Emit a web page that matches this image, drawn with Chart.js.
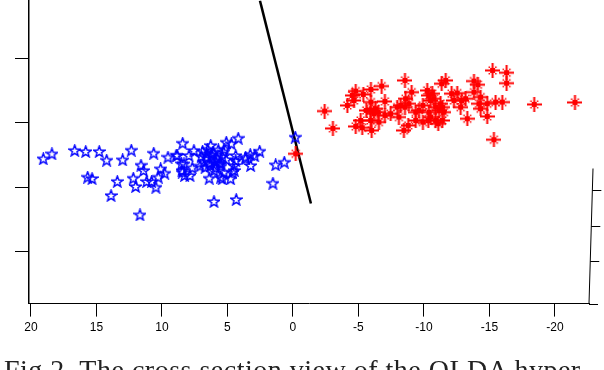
<!DOCTYPE html>
<html>
<head>
<meta charset="utf-8">
<script src="https://cdn.jsdelivr.net/npm/chart.js@4.4.0/dist/chart.umd.min.js"></script>
<style>
    html, body { margin: 0; padding: 0; background: #fff; overflow: hidden; }
    #wrap { position: relative; width: 604px; height: 370px; overflow: hidden; }
    #caption {
        position: absolute; left: 4px; top: 354px; white-space: nowrap;
        font-family: "Liberation Serif", serif; font-size: 28px; color: #222;
        letter-spacing: 0.5px; line-height: 32px;
    }
</style>
</head>
<body>
<div id="wrap">
    <canvas id="olda" width="604" height="370"></canvas>
    <div id="caption">Fig 2. The cross section view of the OLDA hyper</div>
</div>
<script>
// class 1 (blue stars)
const blueX = [19.06, 18.40, 16.66, 15.82, 14.79, 14.22, 13.00, 12.34, 10.63, 9.54, 8.91, 8.42,
    15.67, 15.34, 13.41, 13.89, 12.19, 12.01, 11.60, 11.40, 11.17, 10.79, 10.46, 10.28, 10.10, 9.79,
    11.68, 8.50, 8.47, 8.27, 7.86, 7.69, 6.39, 6.03, 4.33, 5.40, 4.76, 5.09, 4.71, 4.18, 4.48,
    3.61, 3.26, 2.92, 3.23, 2.54, 1.32, 0.66, 1.53, -0.18,
    7.56, 7.94, 8.83, 6.28, 4.37, 4.37, 3.61, 8.32, 8.45, 5.52, 6.03, 5.27, 4.63, 5.52, 4.50,
    6.9, 6.5, 6.1, 5.7, 5.3, 7.0, 6.6, 6.2, 5.8, 5.4, 5.1, 6.8, 6.4, 6.0, 5.6, 7.1, 6.7, 6.3, 5.9,
    5.5, 6.2, 5.9, 6.6, 5.2];
const blueY = [14.42, 15.19, 15.71, 15.55, 15.55, 14.20, 14.26, 15.75, 15.29, 14.67, 14.98, 16.84,
    11.56, 11.35, 10.89, 8.71, 11.40, 10.11, 13.42, 12.60, 10.89, 10.89, 10.00, 11.56, 12.86, 12.18,
    5.71, 13.64, 12.60, 11.82, 11.82, 13.02, 11.40, 7.78, 8.09, 11.31, 11.31, 17.00, 16.75, 17.62, 12.60,
    14.42, 15.09, 14.88, 13.37, 15.60, 13.48, 13.89, 10.62, 17.78,
    15.71, 14.93, 14.93, 16.49, 14.93, 14.15, 14.67, 13.64, 12.33, 11.56, 12.60, 12.33, 12.33, 13.64, 13.37,
    15.6, 15.9, 15.4, 15.8, 15.5, 14.8, 14.6, 14.9, 14.5, 14.8, 14.3, 13.9, 13.7, 14.1, 13.8, 13.3, 13.1, 13.4, 13.0,
    13.3, 15.1, 14.0, 15.2, 15.9];

// class 2 (red asterisks)
const redX = [-2.42, -3.05, -4.15, -4.53, -4.79, -4.66, -5.37, -5.95, -6.77, -7.02, -5.95, -5.93, -5.60,
    -6.31, -6.51, -6.18, -5.17, -4.79, -5.29, -6.01, -5.93, -6.56, -7.02, -7.46, -8.09, -7.96, -8.22,
    -8.55, -8.85, -8.60, -8.55, -9.06, -8.47, -8.80, -9.37, -9.92, -9.37, -9.62, -9.92, -10.25, -10.38,
    -10.63, -10.76, -10.51, -10.38, -10.51, -10.33, -10.89, -11.09, -10.89, -11.15, -11.40, -11.53, -11.27,
    -11.40, -11.35, -11.66, -12.11, -12.54, -12.29, -12.88, -13.18, -12.80, -13.31, -13.82, -14.12, -13.82,
    -14.33, -14.20, -14.33, -14.83, -14.83, -15.47, -15.98, -15.24, -16.31, -16.31, -15.34, -18.42, -21.53,
    -0.21];
const redY = [21.82, 19.13, 22.71, 24.26, 24.93, 23.48, 24.42, 25.19, 25.71, 23.33, 23.22, 21.93, 21.93,
    22.19, 21.66, 21.42, 20.37, 19.44, 19.24, 18.82, 20.37, 20.11, 21.15, 21.42, 20.89, 22.44, 22.71,
    22.44, 22.97, 23.75, 26.59, 24.77, 18.82, 19.60, 20.37, 20.11, 21.66, 21.93, 22.71, 25.04, 24.26,
    24.53, 23.75, 23.48, 21.66, 20.89, 20.37, 20.37, 19.86, 22.44, 21.93, 22.44, 21.66, 22.97,
    20.37, 26.08, 26.59, 24.53, 24.62, 23.48, 23.48, 23.75, 22.44, 20.64, 26.49, 25.92, 24.77,
    24.00, 22.97, 22.19, 22.97, 21.00, 23.22, 23.22, 28.15, 27.79, 26.17, 17.37, 22.86, 23.17,
    15.19];

// OLDA hyperplane cross section
const planeX = [2.52, -1.37];
const planeY = [39.0, 7.47];

const xTicks = [20, 15, 10, 5, 0, -5, -10, -15, -20];
const yTicks = [0, 10, 20, 30];
const rightAxisTicks = [9.5, 4.0, -1.5, -8.1];

const toPoints = (xs, ys) => xs.map((x, i) => ({x: x, y: ys[i]}));

// marker images, drawn once
const makeStar = () => {
    const c = document.createElement('canvas');
    c.width = 13; c.height = 13;
    const g = c.getContext('2d');
    g.strokeStyle = '#0000ff';
    g.lineWidth = 1.4;
    g.beginPath();
    for (let k = 0; k < 10; k++) {
        const r = k % 2 === 0 ? 5.9 : 2.4;
        const a = -Math.PI / 2 + k * Math.PI / 5;
        const px = 6.5 + r * Math.cos(a);
        const py = 7 + r * Math.sin(a);
        if (k === 0) g.moveTo(px, py); else g.lineTo(px, py);
    }
    g.closePath();
    g.stroke();
    return c;
};

const makeAsterisk = () => {
    const c = document.createElement('canvas');
    c.width = 15; c.height = 15;
    const g = c.getContext('2d');
    g.fillStyle = '#ff0000';
    g.fillRect(0, 6.5, 15, 2);
    g.fillRect(6.5, 0, 2, 15);
    g.fillRect(5, 5, 5, 5);
    g.fillRect(3.5, 3.5, 1.5, 1.5);
    g.fillRect(10, 3.5, 1.5, 1.5);
    g.fillRect(3.5, 10, 1.5, 1.5);
    g.fillRect(10, 10, 1.5, 1.5);
    return c;
};

const rightAxis = {
    id: 'rightAxis',
    afterDraw(chart) {
        const ctx = chart.ctx;
        const xs = chart.scales.x;
        const ys = chart.scales.y;
        const x0 = xs.getPixelForValue(-22.6);
        ctx.save();
        ctx.strokeStyle = '#000';
        ctx.lineWidth = 1;
        ctx.beginPath();
        ctx.moveTo(x0 + 4, ys.getPixelForValue(12.9));
        ctx.lineTo(x0, ys.getPixelForValue(-8.1));
        ctx.stroke();
        rightAxisTicks.forEach((v) => {
            const py = Math.round(ys.getPixelForValue(v)) + 0.5;
            const frac = (v + 8.1) / 21;
            ctx.beginPath();
            ctx.moveTo(x0 + frac * 4, py);
            ctx.lineTo(x0 + frac * 4 + 9, py);
            ctx.stroke();
        });
        ctx.restore();
    }
};

const olda = document.getElementById('olda');

new Chart(olda, {
    type: 'scatter',
    data: {
        datasets: [{
            label: 'class 1',
            data: toPoints(blueX, blueY),
            pointStyle: makeStar(),
            pointRadius: 6,
            pointHoverRadius: 6
        },
        {
            label: 'class 2',
            data: toPoints(redX, redY),
            pointStyle: makeAsterisk(),
            pointRadius: 7,
            pointHoverRadius: 7
        },
        {
            label: 'hyperplane',
            type: 'line',
            data: toPoints(planeX, planeY),
            borderColor: '#000',
            borderWidth: 2.5,
            pointRadius: 0,
            fill: false
        }]
    },
    options: {
        responsive: false,
        animation: false,
        events: [],
        layout: {
            autoPadding: false,
            padding: {left: 15, right: 15, top: 0, bottom: 31}
        },
        plugins: {
            legend: {display: false},
            tooltip: {enabled: false}
        },
        scales: {
            x: {
                type: 'linear',
                reverse: true,
                min: -22.6,
                max: 20.15,
                afterBuildTicks: (axis) => {
                    axis.ticks = xTicks.map((v) => ({value: v}));
                },
                grid: {
                    drawOnChartArea: false,
                    drawTicks: true,
                    tickLength: 13,
                    color: '#000'
                },
                border: {color: '#000', width: 1},
                ticks: {
                    color: '#000',
                    padding: 4,
                    maxRotation: 0,
                    font: {family: 'Liberation Sans', size: 12}
                }
            },
            y: {
                type: 'linear',
                min: -8.1,
                max: 39.0,
                afterBuildTicks: (axis) => {
                    axis.ticks = yTicks.map((v) => ({value: v}));
                },
                grid: {
                    drawOnChartArea: false,
                    drawTicks: true,
                    tickLength: 14,
                    color: '#000'
                },
                border: {color: '#000', width: 1.5},
                ticks: {
                    padding: 0,
                    font: {size: 1},
                    callback: () => ''
                }
            }
        }
    },
    plugins: [rightAxis]
});
</script>
</body>
</html>
